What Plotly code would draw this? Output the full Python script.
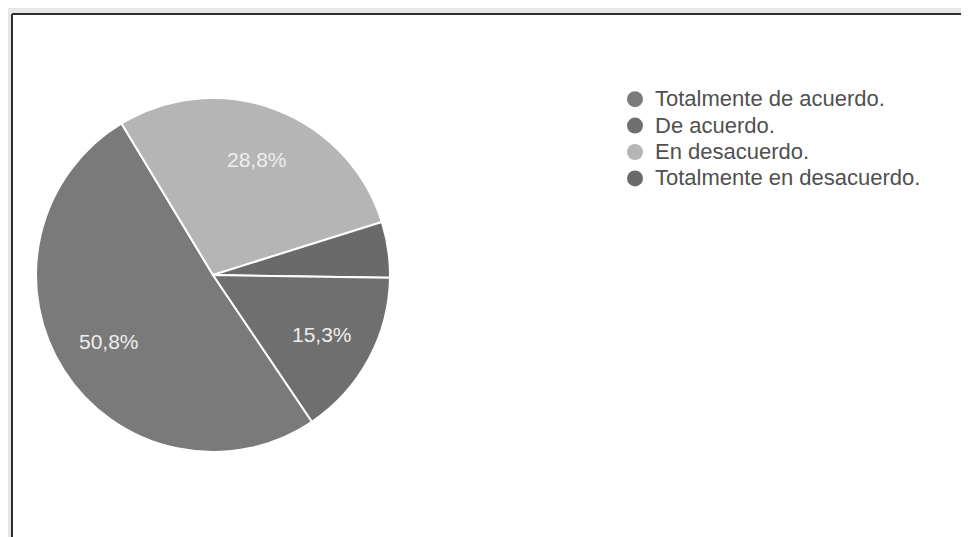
# Gráfico de pastel — nivel de acuerdo (escala de Likert)

import math
import plotly.graph_objects as go

# =============================
# 1. DATOS
# =============================

categorias = [
    "Totalmente de acuerdo.",
    "De acuerdo.",
    "En desacuerdo.",
    "Totalmente en desacuerdo.",
]
porcentajes = [50.8, 15.3, 28.8, 5.1]
etiquetas   = ["50,8%", "15,3%", "28,8%", ""]   # la porción pequeña no lleva texto
colores     = ["#7a7a7a", "#6f6f6f", "#b5b5b5", "#6a6a6a"]

# orden de las porciones en el pastel (sentido horario)
orden_pie = [0, 2, 3, 1]

# la página deja 8 px de margen alrededor de la figura
W, H = 961, 529

# pastel: centro y radio en px de la figura
CX, CY, R = 205, 267, 177
ROTACION = 146


# =============================
# 2. GRÁFICO
# =============================

fig = go.Figure()

fig.add_trace(go.Pie(
    labels=[categorias[i] for i in orden_pie],
    values=[porcentajes[i] for i in orden_pie],
    marker=dict(
        colors=[colores[i] for i in orden_pie],
        line=dict(color="white", width=2),
    ),
    sort=False,
    direction="clockwise",
    rotation=ROTACION,
    textinfo="none",
    domain=dict(x=[(CX - R) / W, (CX + R) / W], y=[1 - (CY + R) / H, 1 - (CY - R) / H]),
    showlegend=False,
    hoverinfo="skip",
))

# etiquetas de porcentaje, al 70 % del radio sobre el ángulo medio de cada porción
total = sum(porcentajes)
angulo = ROTACION
for i in orden_pie:
    barrido = porcentajes[i] / total * 360
    medio = math.radians(angulo + barrido / 2)
    angulo += barrido
    if not etiquetas[i]:
        continue
    fig.add_annotation(
        x=(CX + 0.70 * R * math.sin(medio)) / W,
        y=1 - (CY - 0.70 * R * math.cos(medio)) / H,
        xref="paper", yref="paper",
        xanchor="center", yanchor="middle",
        text=etiquetas[i],
        showarrow=False,
        font=dict(size=21, color="#eeeeee"),
    )

# leyenda (en el orden del formulario)
for cat, col in zip(categorias, colores):
    fig.add_trace(go.Scatter(
        x=[None], y=[None],
        mode="markers",
        name=f"<span style='font-size:22px'>{cat}</span>",
        marker=dict(size=16, color=col, symbol="circle"),
        showlegend=True,
    ))

# marco del escaneo
fig.add_shape(type="rect", xref="paper", yref="paper",
              x0=4 / W, x1=1.02, y0=-0.02, y1=1 - 6 / H,
              fillcolor="white", line=dict(width=0), layer="below")
fig.add_shape(type="line", xref="paper", yref="paper",
              x0=4 / W, x1=1, y0=1 - 6 / H, y1=1 - 6 / H,
              line=dict(color="#2e2e2e", width=2), layer="below")
fig.add_shape(type="line", xref="paper", yref="paper",
              x0=4 / W, x1=4 / W, y0=0, y1=1 - 6 / H,
              line=dict(color="#2e2e2e", width=2), layer="below")

fig.update_layout(
    width=W, height=H,
    margin=dict(l=0, r=0, t=0, b=0),
    paper_bgcolor="#e6e6e6",
    plot_bgcolor="rgba(0,0,0,0)",
    xaxis=dict(visible=False),
    yaxis=dict(visible=False),
    font=dict(family="Liberation Sans, Arial, sans-serif", color="#505050"),
    legend=dict(
        x=607 / W, y=1 - 73 / H,
        xanchor="left", yanchor="top",
        font=dict(size=18, color="#505050"),
        itemsizing="trace",
        bgcolor="rgba(0,0,0,0)",
        tracegroupgap=0,
    ),
)

fig.write_html("out.html")
